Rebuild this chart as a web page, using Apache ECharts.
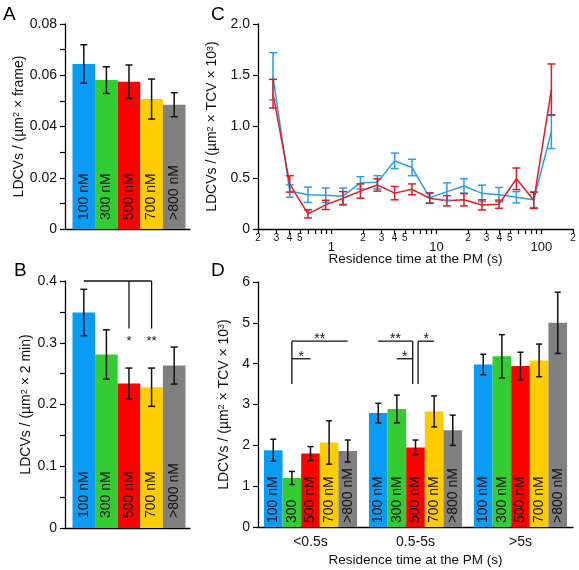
<!DOCTYPE html>
<html><head><meta charset="utf-8">
<script src="https://cdn.jsdelivr.net/npm/echarts@6/dist/echarts.min.js"></script>
<style>html,body{margin:0;padding:0;background:#fff}#c{width:579px;height:570px}</style>
</head><body><div id="c"></div>
<script>
// ---------- data ----------
const concLabels = ['100 nM', '300 nM', '500 nM', '700 nM', '>800 nM'];

// Panel A
const aMean = [0.0644, 0.0581, 0.0575, 0.0507, 0.0485];
const aErr  = [0.0075, 0.0052, 0.0065, 0.0078, 0.0047];

// Panel B
const bMean = [0.349, 0.281, 0.234, 0.228, 0.263];
const bErr  = [0.0375, 0.040, 0.025, 0.031, 0.030];
const bSigLines = [[0, 0.4, 3, 0.4], [2, 0.4, 2, 0.323], [3, 0.4, 3, 0.323]];
const bSigStars = [[2, 0.302, '*'], [3, 0.302, '**']];

// Panel C
const cTime     = [0.278, 0.401, 0.598, 0.883, 1.29, 1.89, 2.74, 4.01, 5.86, 8.64, 12.6, 18.3, 27.2, 39.5, 57.8, 84.6, 124.5];
const cBlue     = [1.49, 0.37, 0.334, 0.33, 0.32, 0.45, 0.455, 0.665, 0.60, 0.305, 0.365, 0.42, 0.348, 0.335, 0.31, 0.285, 0.95];
const cBlueErr  = [0.23, 0.06, 0.075, 0.07, 0.08, 0.06, 0.065, 0.075, 0.08, 0.05, 0.085, 0.07, 0.08, 0.07, 0.055, 0.075, 0.165];
const cRed      = [1.32, 0.44, 0.148, 0.235, 0.30, 0.37, 0.43, 0.35, 0.387, 0.30, 0.275, 0.285, 0.235, 0.242, 0.49, 0.28, 1.36];
const cRedErr   = [0.14, 0.08, 0.04, 0.045, 0.065, 0.07, 0.06, 0.065, 0.053, 0.05, 0.05, 0.06, 0.05, 0.04, 0.105, 0.08, 0.25];
const cTickValues = [0.2,0.3,0.4,0.5,0.6,0.7,0.8,0.9,1,2,3,4,5,6,7,8,9,10,20,30,40,50,60,70,80,90,100,200];
const cSmallLabelValues = [0.2,0.3,0.4,0.5,2,3,4,5,20,30,40,50,200];
const cSmallLabelText   = ['2','3','4','5','2','3','4','5','2','3','4','5','2'];
const cBigLabelValues = [1, 10, 100];
const cBigLabelText   = ['1', '10', '100'];

// Panel D
const dCats = ['<0.5s', '0.5-5s', '>5s'];
const dMean = [
  [1.88, 2.79, 3.98],
  [1.20, 2.89, 4.18],
  [1.80, 1.95, 3.94],
  [2.07, 2.83, 4.08],
  [1.86, 2.37, 5.00]
];
const dErr = [
  [0.27, 0.24, 0.25],
  [0.16, 0.34, 0.53],
  [0.17, 0.18, 0.34],
  [0.53, 0.38, 0.40],
  [0.27, 0.37, 0.75]
];
const dBarLabels = [
  ['100 nM', '100 nM', '100 nM'],
  ['300', '300 nM', '300 nM'],
  ['500 nM', '500 nM', '500 nM'],
  ['700 nM', '700 nM', '700 nM'],
  ['>800 nM', '>800 nM', '>800 nM']
];
// [group, slotFrom, yFrom, slotTo, yTo]
const dSigLines = [
  [0, 1, 4.55, 1, 3.5], [0, 1, 4.55, 4, 4.55], [0, 1, 4.12, 2, 4.12],
  [1, 1.85, 4.55, 1.85, 3.5], [1, 0, 4.55, 1.85, 4.55], [1, 1, 4.12, 1.85, 4.12],
  [1, 2.14, 4.55, 2.14, 3.5], [1, 2.14, 4.55, 3, 4.55]
];
const dSigStars = [[0, 2.5, 4.55, '**'], [0, 1.5, 4.12, '*'], [1, 0.92, 4.55, '**'], [1, 1.42, 4.12, '*'], [1, 2.57, 4.55, '*']];

// ---------- styles ----------
const FONT = 'Liberation Sans, Arial, sans-serif';
const barColors = ['#0a9bf5', '#33cc33', '#ff0000', '#ffcc00', '#808080'];
const cBlueColor = '#2a9de6', cRedColor = '#e31b23';
const INK = '#111';
const D_FILL = 0.887;

const chart = echarts.init(document.getElementById('c'), null, {renderer: 'canvas'});

function yName(text) {
  return {
    name: text, nameLocation: 'middle',
    nameTextStyle: {fontSize: 14, color: INK, fontFamily: FONT,
      rich: {s: {fontSize: 9, verticalAlign: 'top', color: INK, fontFamily: FONT}}}
  };
}
const axLine = {show: true, onZero: false, lineStyle: {color: '#000', width: 1.3}};

function errSeries(xi, yi, xs, mean, err, cap, color, lw, slot) {
  return {
    type: 'custom', xAxisIndex: xi, yAxisIndex: yi, z: 6, silent: true,
    data: xs.map((x, i) => [x, mean[i] - err[i], mean[i] + err[i]]),
    renderItem: function (params, api) {
      const x = api.value(0), lo = api.value(1), hi = api.value(2);
      const p1 = api.coord([x, hi]), p2 = api.coord([x, lo]);
      let px = p1[0];
      if (slot != null) px += (slot - 2) * api.size([1, 0])[0] * D_FILL / 5;
      const st = {stroke: color, lineWidth: lw};
      return {type: 'group', children: [
        {type: 'line', shape: {x1: px, y1: p1[1], x2: px, y2: p2[1]}, style: st},
        {type: 'line', shape: {x1: px - cap, y1: p1[1], x2: px + cap, y2: p1[1]}, style: st},
        {type: 'line', shape: {x1: px - cap, y1: p2[1], x2: px + cap, y2: p2[1]}, style: st}
      ]};
    }
  };
}

function simpleBars(xi, yi, mean, dist) {
  return {
    type: 'bar', xAxisIndex: xi, yAxisIndex: yi, barWidth: 22.6, silent: true,
    data: mean.map((v, i) => ({value: [i, v], itemStyle: {color: barColors[i]}})),
    label: {show: true, position: 'insideBottom', rotate: 90, align: 'left', verticalAlign: 'middle',
      distance: dist, fontSize: 14, color: INK, fontFamily: FONT,
      formatter: p => concLabels[p.dataIndex]}
  };
}

function lookup(vals, texts) {
  return function (v) {
    for (let i = 0; i < vals.length; i++) if (Math.abs(Math.log10(vals[i]) - v) < 1e-6) return texts[i];
    return '';
  };
}

const idx = [0, 1, 2, 3, 4];
const series = [];
// A
series.push(simpleBars(0, 0, aMean, 9));
series.push(errSeries(0, 0, idx, aMean, aErr, 3.5, INK, 1.5));
// B
series.push(simpleBars(1, 1, bMean, 10));
series.push(errSeries(1, 1, idx, bMean, bErr, 3.5, INK, 1.5));
series.push({
  type: 'custom', xAxisIndex: 1, yAxisIndex: 1, z: 7, silent: true, data: [[0, 0]],
  renderItem: function (params, api) {
    const X = i => api.coord([i, 0])[0], Y = v => api.coord([0, v])[1];
    const ch = bSigLines.map(s => ({type: 'line', shape: {x1: X(s[0]), y1: Y(s[1]), x2: X(s[2]), y2: Y(s[3])},
      style: {stroke: INK, lineWidth: 1.3}}));
    bSigStars.forEach(s => ch.push({type: 'text', x: X(s[0]), y: Y(s[1]),
      style: {text: s[2], fontSize: 13, fontFamily: FONT, fill: INK, align: 'center', verticalAlign: 'middle'}}));
    return {type: 'group', children: ch};
  }
});
// C
series.push({type: 'line', xAxisIndex: 2, yAxisIndex: 2, symbol: 'none', silent: true,
  data: cTime.map((t, i) => [t, cBlue[i]]), lineStyle: {color: cBlueColor, width: 1.5}, z: 3});
series.push(errSeries(2, 2, cTime, cBlue, cBlueErr, 4, cBlueColor, 1.5));
series.push({type: 'line', xAxisIndex: 2, yAxisIndex: 2, symbol: 'none', silent: true,
  data: cTime.map((t, i) => [t, cRed[i]]), lineStyle: {color: cRedColor, width: 1.5}, z: 4});
series.push(errSeries(2, 2, cTime, cRed, cRedErr, 4, cRedColor, 1.5));
// D
for (let s = 0; s < 5; s++) {
  series.push({
    type: 'bar', xAxisIndex: 5, yAxisIndex: 3, barGap: '0%', barCategoryGap: '11.3%', silent: true,
    itemStyle: {color: barColors[s]},
    data: dMean[s],
    label: {show: true, position: 'insideBottom', rotate: 90, align: 'left', verticalAlign: 'middle',
      distance: 4, fontSize: 14, color: INK, fontFamily: FONT,
      formatter: p => dBarLabels[s][p.dataIndex]}
  });
}
for (let s = 0; s < 5; s++) {
  series.push(errSeries(5, 3, [0, 1, 2], dMean[s], dErr[s], 3, INK, 1.5, s));
}
series.push({
  type: 'custom', xAxisIndex: 5, yAxisIndex: 3, z: 7, silent: true, data: [[0, 0]],
  renderItem: function (params, api) {
    const bw = api.size([1, 0])[0] * D_FILL / 5;
    const X = (g, sl) => api.coord([g, 0])[0] + (sl - 2) * bw;
    const Y = v => api.coord([0, v])[1];
    const ch = dSigLines.map(s => ({type: 'line', shape: {x1: X(s[0], s[1]), y1: Y(s[2]), x2: X(s[0], s[3]), y2: Y(s[4])},
      style: {stroke: INK, lineWidth: 1.3}}));
    dSigStars.forEach(s => ch.push({type: 'text', x: X(s[0], s[1]), y: Y(s[2]) - 2,
      style: {text: s[3], fontSize: 14, fontFamily: FONT, fill: INK, align: 'center', verticalAlign: 'middle'}}));
    return {type: 'group', children: ch};
  }
});

const hiddenX = (gi) => ({type: 'value', gridIndex: gi, min: -0.832, max: 4.70, axisLine: axLine,
  axisTick: {show: false}, axisLabel: {show: false}, splitLine: {show: false}});

const cMin = Math.log10(0.2), cMax = Math.log10(200);

const option = {
  animation: false,
  backgroundColor: '#fff',
  textStyle: {fontFamily: FONT},
  grid: [
    {left: 65, top: 24, width: 125, height: 205},
    {left: 65, top: 281, width: 125, height: 247},
    {left: 258, top: 24, width: 315, height: 205},
    {left: 258, top: 282, width: 315, height: 245}
  ],
  xAxis: [
    hiddenX(0),
    hiddenX(1),
    {type: 'log', logBase: 10, gridIndex: 2, min: 0.2, max: 200, axisLine: axLine,
      axisTick: {show: false}, axisLabel: {show: false}, splitLine: {show: false}, minorSplitLine: {show: false}},
    {type: 'value', gridIndex: 2, min: cMin, max: cMax, position: 'bottom',
      axisLine: {show: false, onZero: false}, splitLine: {show: false},
      axisTick: {show: true, length: 5, lineStyle: {color: '#000', width: 1.2},
        customValues: cTickValues.map(v => Math.log10(v))},
      axisLabel: {show: true, margin: 4, fontSize: 10, color: INK, fontFamily: FONT, showMinLabel: true, showMaxLabel: true,
        customValues: cSmallLabelValues.map(v => Math.log10(v)), formatter: lookup(cSmallLabelValues, cSmallLabelText)},
      name: 'Residence time at the PM (s)', nameLocation: 'middle', nameGap: 23,
      nameTextStyle: {fontSize: 13.5, color: INK, fontFamily: FONT}},
    {type: 'value', gridIndex: 2, min: cMin, max: cMax, position: 'bottom',
      axisLine: {show: false, onZero: false}, splitLine: {show: false}, axisTick: {show: false},
      axisLabel: {show: true, margin: 12, fontSize: 13, color: INK, fontFamily: FONT, showMinLabel: true, showMaxLabel: true,
        customValues: cBigLabelValues.map(v => Math.log10(v)), formatter: lookup(cBigLabelValues, cBigLabelText)}},
    {type: 'category', gridIndex: 3, data: dCats, axisLine: axLine, axisTick: {show: false},
      axisLabel: {fontSize: 14, color: INK, fontFamily: FONT, margin: 8},
      name: 'Residence time at the PM (s)', nameLocation: 'middle', nameGap: 26,
      nameTextStyle: {fontSize: 13.5, color: INK, fontFamily: FONT}}
  ],
  yAxis: [
    Object.assign({type: 'value', gridIndex: 0, min: 0, max: 0.08, interval: 0.02, axisLine: axLine,
      axisTick: {show: true, length: 5, lineStyle: {color: '#000', width: 1.2}},
      minorTick: {show: true, splitNumber: 2, length: 5, lineStyle: {color: '#000', width: 1.2}},
      splitLine: {show: false}, minorSplitLine: {show: false},
      axisLabel: {fontSize: 14, color: INK, fontFamily: FONT, margin: 8, formatter: v => v === 0 ? '0' : v.toFixed(2)},
      nameGap: 38}, yName('LDCVs / (µm{s|2} × frame)')),
    Object.assign({type: 'value', gridIndex: 1, min: 0, max: 0.4, interval: 0.1, axisLine: axLine,
      axisTick: {show: true, length: 5, lineStyle: {color: '#000', width: 1.2}},
      minorTick: {show: true, splitNumber: 2, length: 5, lineStyle: {color: '#000', width: 1.2}},
      splitLine: {show: false}, minorSplitLine: {show: false},
      axisLabel: {fontSize: 14, color: INK, fontFamily: FONT, margin: 8, formatter: v => v === 0 ? '0' : v.toFixed(1)},
      nameGap: 28}, yName('LDCVs / (µm{s|2} × 2 min)')),
    Object.assign({type: 'value', gridIndex: 2, min: 0, max: 2, interval: 0.5, axisLine: axLine,
      axisTick: {show: true, length: 5, lineStyle: {color: '#000', width: 1.2}},
      splitLine: {show: false},
      axisLabel: {fontSize: 14, color: INK, fontFamily: FONT, margin: 8, formatter: v => v === 0 ? '0' : v.toFixed(1)},
      nameGap: 25}, yName('LDCVs / (µm{s|2} × TCV × 10{s|3})')),
    Object.assign({type: 'value', gridIndex: 3, min: 0, max: 6, interval: 1, axisLine: axLine,
      axisTick: {show: true, length: 5, lineStyle: {color: '#000', width: 1.2}},
      splitLine: {show: false},
      axisLabel: {fontSize: 14, color: INK, fontFamily: FONT, margin: 8},
      nameGap: 25}, yName('LDCVs / (µm{s|2} × TCV × 10{s|3})'))
  ],
  graphic: [
    {type: 'text', left: 3, top: 5, style: {text: 'A', fontSize: 19, fontFamily: FONT, fill: '#000'}},
    {type: 'text', left: 14, top: 261, style: {text: 'B', fontSize: 19, fontFamily: FONT, fill: '#000'}},
    {type: 'text', left: 211, top: 5, style: {text: 'C', fontSize: 19, fontFamily: FONT, fill: '#000'}},
    {type: 'text', left: 211, top: 261, style: {text: 'D', fontSize: 19, fontFamily: FONT, fill: '#000'}}
  ],
  series: series
};
chart.setOption(option);
</script>
</body></html>
